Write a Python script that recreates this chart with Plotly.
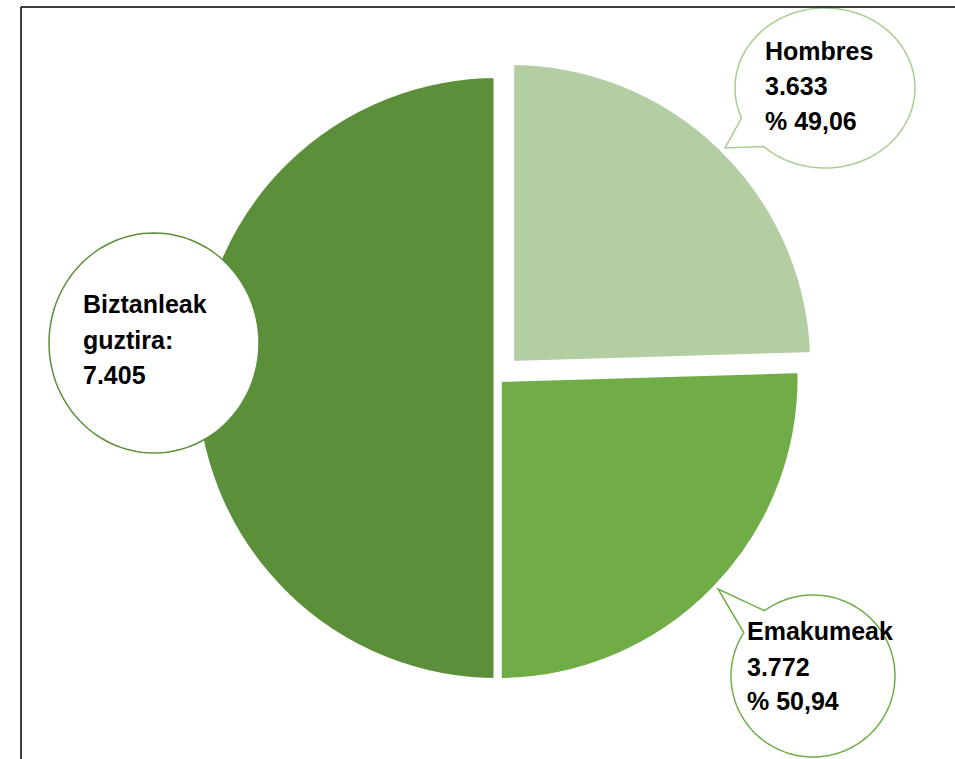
import numpy as np
import plotly.graph_objects as go

# ---- data ----
labels = ["Hombres", "Emakumeak", "Biztanleak guztira"]
values = [3633, 3772, 7405]
colors = ["#B4CEA4", "#70AD47", "#5B8F3A"]
pulls = [0.06, 0, 0]

W, H = 955, 759
total = values[2]


def fmt_int(v):
    return f"{v:,}".replace(",", ".")


def fmt_pct(v):
    return "% " + f"{v / total * 100:.2f}".replace(".", ",")


def px(x):
    return x / W


def py(y):
    return 1 - y / H


fig = go.Figure()

# pie geometry (pixels): centre and radius (incl. white separator stroke)
cx, cy, R = 497.5, 378, 304
half = R * (1 + max(pulls))
fig.add_trace(go.Pie(
    labels=labels,
    values=values,
    sort=False,
    direction="clockwise",
    rotation=0,
    pull=pulls,
    marker=dict(colors=colors, line=dict(color="white", width=8)),
    textinfo="none",
    hoverinfo="label+value",
    showlegend=False,
    domain=dict(x=[px(cx - half), px(cx + half)], y=[py(cy + half), py(cy - half)]),
))


def callout_path(ecx, ecy, rx, ry, t1=None, t2=None, tip=None, n=120):
    if tip is None:
        ts = np.linspace(0, 2 * np.pi, n, endpoint=False)
    else:
        a1, a2 = np.radians(t1), np.radians(t2)
        if a2 < a1:
            a2 += 2 * np.pi
        ts = np.linspace(a1, a2, n)
    pts = [(ecx + rx * np.cos(t), ecy + ry * np.sin(t)) for t in ts]
    if tip is not None:
        pts.append(tip)
    d = "M " + " L ".join(f"{px(x):.5f},{py(y):.5f}" for x, y in pts) + " Z"
    return d


shapes = []
# Hombres callout
shapes.append(dict(type="path", xref="paper", yref="paper", layer="above",
                   path=callout_path(825, 88, 90, 80, 158, 133, (725, 148)),
                   fillcolor="white", line=dict(color="#A9CC92", width=1.5)))
# Biztanleak callout
shapes.append(dict(type="path", xref="paper", yref="paper", layer="above",
                   path=callout_path(154, 343, 105, 110),
                   fillcolor="white", line=dict(color="#5B8F3A", width=1.5)))
# Emakumeak callout
shapes.append(dict(type="path", xref="paper", yref="paper", layer="above",
                   path=callout_path(813, 676, 82, 81, 233.7, 212.4, (718, 589)),
                   fillcolor="white", line=dict(color="#70AD47", width=1.5)))
# frame lines (top and left)
shapes.append(dict(type="line", xref="paper", yref="paper", layer="above",
                   x0=px(21), x1=1, y0=py(7), y1=py(7), line=dict(color="black", width=1.5)))
shapes.append(dict(type="line", xref="paper", yref="paper", layer="above",
                   x0=px(21), x1=px(21), y0=py(7), y1=0, line=dict(color="black", width=1.5)))

annotations = []


def add_lines(lines, left, baselines):
    for t, b in zip(lines, baselines):
        annotations.append(dict(
            text=f"<b>{t}</b>", x=px(left), y=py(b - 8.6), xref="paper", yref="paper",
            xanchor="left", yanchor="middle", showarrow=False,
            font=dict(family="Liberation Sans, Arial", size=25, color="black"),
        ))


add_lines([labels[0], fmt_int(values[0]), fmt_pct(values[0])], 763, [60, 95, 130])
add_lines(["Biztanleak", "guztira:", fmt_int(values[2])], 81, [313, 349, 384])
add_lines([labels[1], fmt_int(values[1]), fmt_pct(values[1])], 745, [640, 676, 710])

fig.update_layout(
    width=W, height=H,
    margin=dict(l=0, r=0, t=0, b=0),
    paper_bgcolor="white", plot_bgcolor="white",
    shapes=shapes, annotations=annotations,
)

fig.write_html(
    "out.html",
    config={"displayModeBar": False},
    post_script="document.body.style.margin='0';document.body.style.overflow='hidden';",
)
